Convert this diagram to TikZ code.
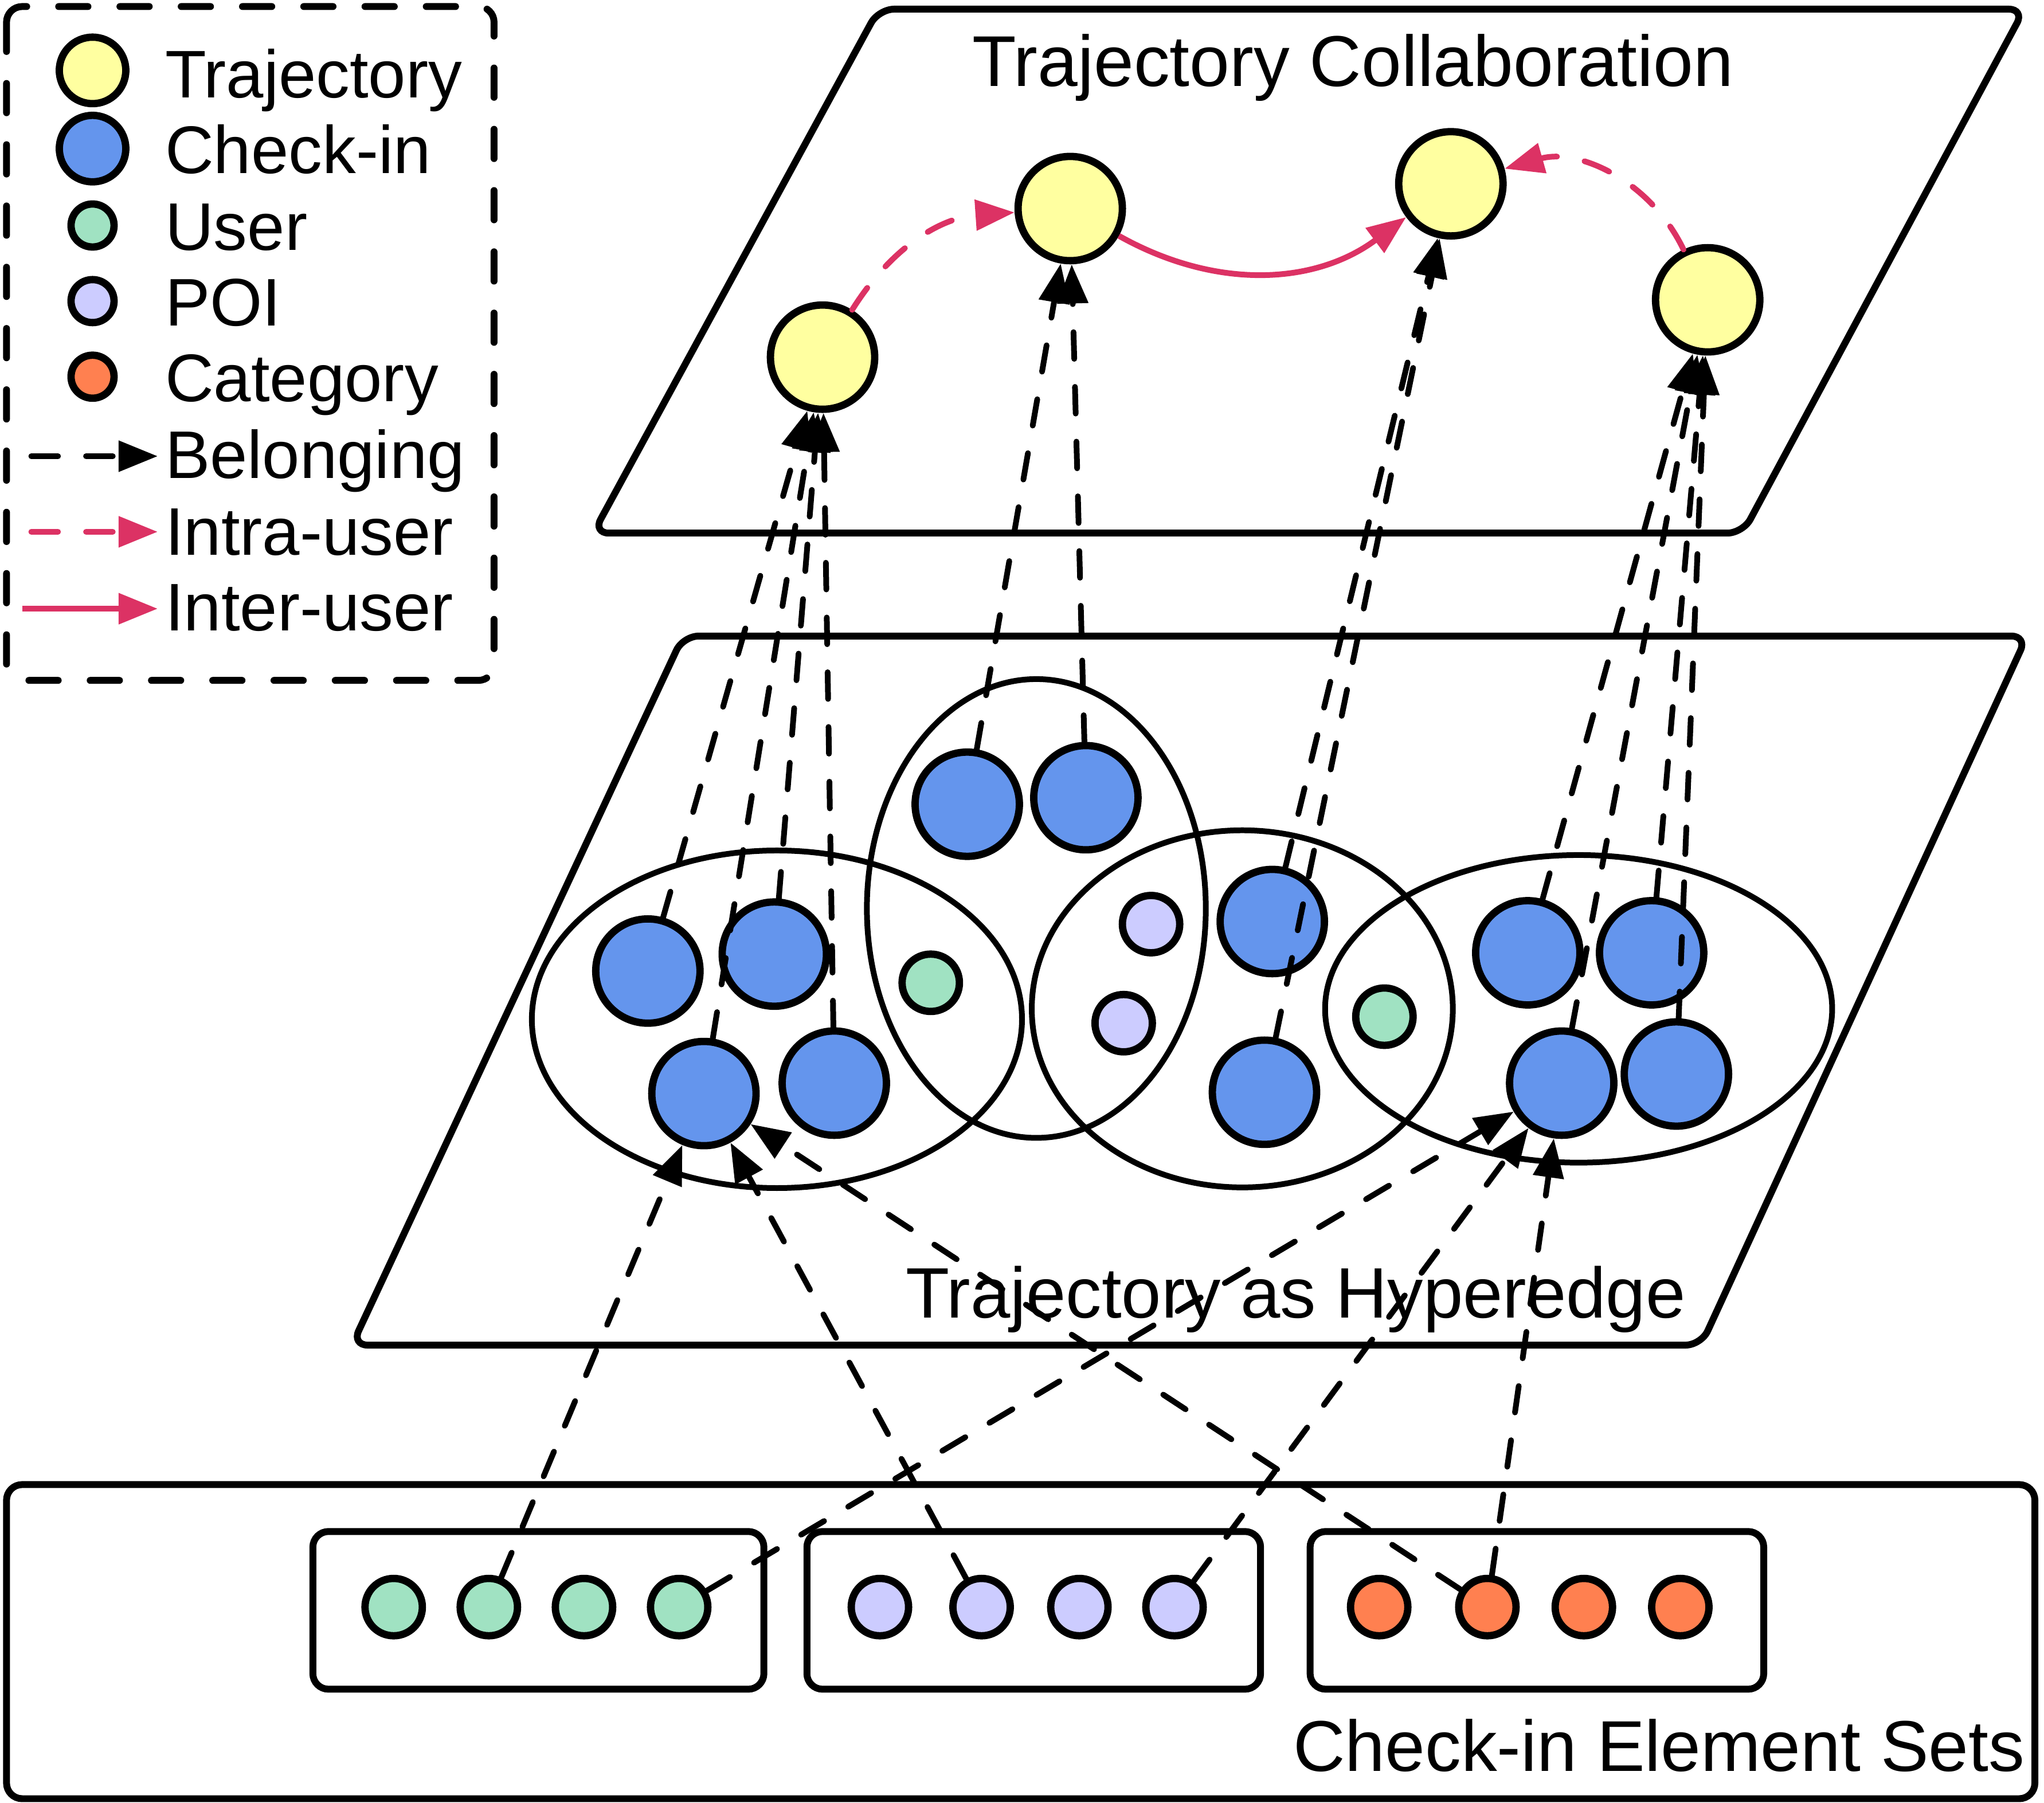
\documentclass[tikz,border=0pt]{standalone}
\usepackage{fontspec}
\setmainfont{Liberation Sans}
\usetikzlibrary{positioning,arrows.meta,shapes.geometric}
\definecolor{trajYellow}{RGB}{255,255,160}
\definecolor{ckBlue}{RGB}{100,149,237}
\definecolor{userGreen}{RGB}{160,226,194}
\definecolor{poiLilac}{RGB}{204,204,255}
\definecolor{catOrange}{RGB}{255,128,80}
\definecolor{linkPink}{RGB}{220,50,100}
\tikzset{
    legendtext/.style={font=\fontsize{14.7pt}{17pt}\selectfont, inner sep=0pt, anchor=base west},
    layertext/.style={font=\fontsize{15.6pt}{18pt}\selectfont, inner sep=0pt, anchor=base},
    traj/.style={circle, draw, line width=1.6pt, fill=trajYellow, minimum size=8mm, inner sep=0pt},
    checkin/.style={traj, fill=ckBlue},
    elem/.style={circle, draw, line width=1.6pt, minimum size=4.4mm, inner sep=0pt},
    user/.style={elem, fill=userGreen},
    poi/.style={elem, fill=poiLilac},
    cate/.style={elem, fill=catOrange},
    hedge/.style={ellipse, draw, line width=1.25pt, inner sep=0pt},
    plane/.style={draw, line width=1.5pt, rounded corners=1.2mm},
    legendbox/.style={draw, line width=1.5pt, rounded corners=1.2mm, line cap=round,
                      dash pattern=on 2.25mm off 2.45mm},
    belong/.style={-{Triangle[length=3mm,width=2.3mm]}, line width=1.25pt, line cap=round,
                   dash pattern=on 2.05mm off 2.15mm},
    intra/.style={belong, draw=linkPink},
    inter/.style={-{Triangle[length=3mm,width=2.3mm]}, draw=linkPink, line width=1.25pt}
}
\begin{document}
\begin{tikzpicture}[x=0.1mm, y=-0.1mm]
  \useasboundingbox (0,0) rectangle (1568,1383);

  % Legend
  \draw[legendbox] (5,5) rectangle (379,522);
  \node[traj, minimum size=5.1mm] (lgT) at (71,54) {};
  \node[checkin, minimum size=5.1mm] (lgC) at (71,114) {};
  \node[user, minimum size=3.3mm] (lgU) at (71,173) {};
  \node[poi, minimum size=3.3mm] (lgP) at (71,231) {};
  \node[cate, minimum size=3.3mm] (lgK) at (71,289) {};
  \coordinate (lgB0) at (24,350);  \coordinate (lgB1) at (121,350);
  \coordinate (lgA0) at (24,408);  \coordinate (lgA1) at (121,408);
  \coordinate (lgR0) at (17,467);  \coordinate (lgR1) at (121,467);
  \draw[belong] (lgB0) -- (lgB1);
  \draw[intra] (lgA0) -- (lgA1);
  \draw[inter] (lgR0) -- (lgR1);
  \node[legendtext] (tT) at (126,75) {Trajectory};
  \node[legendtext] (tC) at (126,133) {Check-in};
  \node[legendtext] (tU) at (126,192) {User};
  \node[legendtext] (tP) at (126,250) {POI};
  \node[legendtext] (tK) at (126,308) {Category};
  \node[legendtext] (tB) at (126,367) {Belonging};
  \node[legendtext] (tA) at (126,426) {Intra-user};
  \node[legendtext] (tR) at (126,484) {Inter-user};

  % Layers
  \draw[plane] (674,7) -- (1553,7) -- (1337,409) -- (455,409) -- cycle;
  \draw[plane] (524,488) -- (1555,488) -- (1305,1032) -- (270,1032) -- cycle;
  \draw[plane] (5,1139) rectangle (1561,1380);
  \draw[plane] (240,1175) rectangle (586,1296);
  \draw[plane] (619,1175) rectangle (967,1296);
  \draw[plane] (1005,1175) rectangle (1353,1296);
  \node[layertext, font=\fontsize{15.7pt}{18pt}\selectfont] (lyTop) at (1038,66) {Trajectory Collaboration};
  \node[layertext] (lyMid) at (994,1011) {Trajectory as Hyperedge};
  \node[layertext, anchor=base east, font=\fontsize{15.7pt}{18pt}\selectfont] (lyBot) at (1554,1359) {Check-in Element Sets};

  % Hyperedges
  \node[hedge, minimum width=37.6mm, minimum height=25.9mm] (e1) at (596,782) {};
  \node[hedge, minimum width=26mm, minimum height=35.2mm] (e2) at (795,697) {};
  \node[hedge, minimum width=32.3mm, minimum height=27.4mm] (e3) at (953,774) {};
  \node[hedge, minimum width=38.9mm, minimum height=23.6mm] (e4) at (1211,774) {};

  % Trajectories
  \node[traj] (T1) at (631,274) {};
  \node[traj] (T2) at (821,160) {};
  \node[traj] (T3) at (1113,141) {};
  \node[traj] (T4) at (1310,230) {};

  % Check-ins
  \node[checkin] (c1) at (497,745) {};
  \node[checkin] (c2) at (594,732) {};
  \node[checkin] (c3) at (540,839) {};
  \node[checkin] (c4) at (640,831) {};
  \node[checkin] (c5) at (742,617) {};
  \node[checkin] (c6) at (833,612) {};
  \node[checkin] (c7) at (976,707) {};
  \node[checkin] (c8) at (970,838) {};
  \node[checkin] (c9) at (1172,731) {};
  \node[checkin] (c10) at (1267,731) {};
  \node[checkin] (c11) at (1198,831) {};
  \node[checkin] (c12) at (1286,824) {};
  \node[user] (uA) at (714,754) {};
  \node[poi] (pA) at (883,709) {};
  \node[poi] (pB) at (862,785) {};
  \node[user] (uB) at (1062,780) {};

  % Element sets
  \node[user] (g1) at (302,1233) {};
  \node[user] (g2) at (375,1233) {};
  \node[user] (g3) at (448,1233) {};
  \node[user] (g4) at (521,1233) {};
  \node[poi] (p1) at (675,1233) {};
  \node[poi] (p2) at (753,1233) {};
  \node[poi] (p3) at (828,1233) {};
  \node[poi] (p4) at (901,1233) {};
  \node[cate] (k1) at (1058,1233) {};
  \node[cate] (k2) at (1141,1233) {};
  \node[cate] (k3) at (1215,1233) {};
  \node[cate] (k4) at (1289,1233) {};

  % Belonging arrows
  \draw[belong] (c1) -- (T1);
  \draw[belong] (c2) -- (T1);
  \draw[belong] (c3) -- (T1);
  \draw[belong] (c4) -- (T1);
  \draw[belong] (c5) -- (T2);
  \draw[belong] (c6) -- (T2);
  \draw[belong] (c7) -- (T3);
  \draw[belong] (c8) -- (T3);
  \draw[belong] (c9) -- (T4);
  \draw[belong] (c10) -- (T4);
  \draw[belong] (c11) -- (T4);
  \draw[belong] (c12) -- (T4);
  \draw[belong] (g2) -- (c3);
  \draw[belong] (p2) -- (c3);
  \draw[belong] (k2) -- (c3);
  \draw[belong] (g4) -- (c11);
  \draw[belong] (p4) -- (c11);
  \draw[belong] (k2) -- (c11);

  % Trajectory links
  \draw[intra] (T1) to[bend left=27] (T2);
  \draw[inter] (T2) to[bend right=33] (T3);
  \draw[intra] (T4) to[bend right=40] (T3);
\end{tikzpicture}
\end{document}
